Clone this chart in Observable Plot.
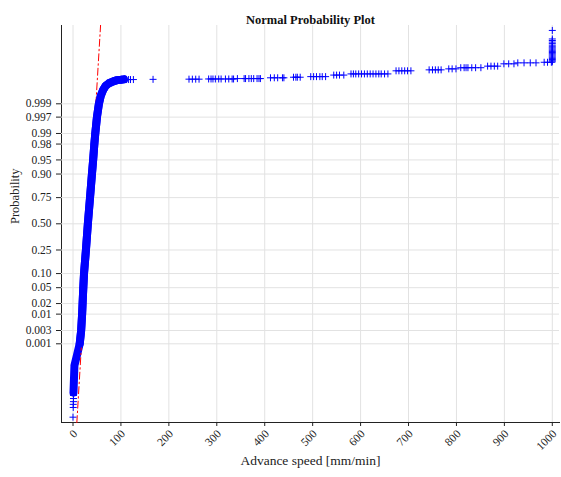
<!DOCTYPE html>
<html><head><meta charset="utf-8">
<script src="https://cdn.jsdelivr.net/npm/d3@7"></script>
<script src="https://cdn.jsdelivr.net/npm/@observablehq/plot@0.6"></script>
<style>body{margin:0;background:#fff;} svg{display:block}</style>
</head><body><div id="chart"></div>
<script>
// ---- Data ----
const probTicks = [0.001, 0.003, 0.01, 0.02, 0.05, 0.10, 0.25, 0.50, 0.75, 0.90, 0.95, 0.98, 0.99, 0.997, 0.999];
const probLabels = ["0.001","0.003","0.01","0.02","0.05","0.10","0.25","0.50","0.75","0.90","0.95","0.98","0.99","0.997","0.999"];
const speedTicks = [0,100,200,300,400,500,600,700,800,900,1000];

// dense body of the quantile curve (normal score z, speed)
const bandZ =     [-4.35,-4.0,-3.65,-3.4,-3.09,-2.75,-2.33,-2.05,-1.64,-1.28,-0.67,0,  0.67,1.28,1.64,2.05,2.33,2.75,3.09,3.3,3.45,3.55,3.62,3.67,3.70,3.71,3.72];
const bandSpeed = [1,    2,   3,    8,   14,   17,   19,   20,   21.5, 23,   27,   31, 35.5,39.5,42,  44.5,46.5,50,  54,  58, 63,  68,  75,  84,  92, 100, 106];

// lowest individual observations
const lowZ =     [-4.98,-4.73,-4.65,-4.58,-4.50,-4.42];
const lowSpeed = [0,    0.5,  0.5,  1,    1,    1];

// sparse upper tail, grouped by normal score
const tailZ = [3.715,3.72,3.725,3.73,3.74,3.76,3.775,3.79,3.83,3.86,3.94,3.965,3.99,4.02,4.06,4.12,4.145,4.16];
const tailSpeeds = [
  [104,108,112,116,120,126],
  [167],
  [242,249,256,263],
  [283,288,292,297,304,309,318,325,332,335],
  [343,357,360,367,372,377,384,388,391],
  [412,420,427,437,440],
  [460,465,468,474],
  [496,502,508,515,520,527],
  [544,550,556,565],
  [580,585,590,596,602,608,614,620,626,632,638,643,650,657],
  [674,680,686,692,698,705],
  [743,750,756,762,768],
  [784,791,799],
  [809,816,820,824,832,840,851],
  [865,872,879,886],
  [899,909,920],
  [928,941,954,966],
  [983,990,998]
];
// stack of observations at the 1000 mm/min cap
const capSpeed = 1000;
const capZ = [4.17,4.2,4.23,4.26,4.29,4.32,4.35,4.38,4.41,4.44,4.47,4.5,4.53,4.56,4.6,4.64,4.68,4.72,4.76,4.98];

// reference (fitted normal) line end points
const refSpeed = [8, 57.5];
const refZ = [-5.12, 5.11];

// ---- helpers ----
function norminv(p){
  const a=[-3.969683028665376e+01,2.209460984245205e+02,-2.759285104469687e+02,1.383577518672690e+02,-3.066479806614716e+01,2.506628277459239e+00];
  const b=[-5.447609879822406e+01,1.615858368580409e+02,-1.556989798598866e+02,6.680131188771972e+01,-1.328068155288572e+01];
  const c=[-7.784894002430293e-03,-3.223964580411365e-01,-2.400758277161838e+00,-2.549671010544226e+00,4.374664141464968e+00,2.938163982698783e+00];
  const d=[7.784695709041462e-03,3.224671290700398e-01,2.445134137142996e+00,3.754408661907416e+00];
  const pl=0.02425, ph=1-pl; let q,r;
  if(p<pl){q=Math.sqrt(-2*Math.log(p));return (((((c[0]*q+c[1])*q+c[2])*q+c[3])*q+c[4])*q+c[5])/((((d[0]*q+d[1])*q+d[2])*q+d[3])*q+1);}
  if(p<=ph){q=p-0.5;r=q*q;return (((((a[0]*r+a[1])*r+a[2])*r+a[3])*r+a[4])*r+a[5])*q/(((((b[0]*r+b[1])*r+b[2])*r+b[3])*r+b[4])*r+1);}
  q=Math.sqrt(-2*Math.log(1-p));return -(((((c[0]*q+c[1])*q+c[2])*q+c[3])*q+c[4])*q+c[5])/((((d[0]*q+d[1])*q+d[2])*q+d[3])*q+1);
}
const tickZ = probTicks.map(norminv);
const labelOf = new Map(tickZ.map((z,i)=>[z, probLabels[i]]));

const band = bandZ.map((z,i)=>({z, s: bandSpeed[i]}));
const low = lowZ.map((z,i)=>({z, s: lowSpeed[i]}));
const tail = tailZ.flatMap((z,i)=>tailSpeeds[i].map(s=>({z, s})));
const cap = capZ.map(z=>({z, s: capSpeed}));
const refLine = refZ.map((z,i)=>({z, s: refSpeed[i]}));
const markers = [...low, ...band, ...tail, ...cap];

const plus = {draw(ctx, size){const h=Math.sqrt(size/Math.PI); ctx.moveTo(-h,0); ctx.lineTo(h,0); ctx.moveTo(0,-h); ctx.lineTo(0,h);}};
const serif = "'Liberation Serif','Times New Roman',serif";

const chart = Plot.plot({
  width: 561, height: 477,
  marginTop: 25, marginLeft: 61, marginRight: 2, marginBottom: 55,
  style: {fontFamily: serif, fontSize: "11.5px", background: "#fff", color: "#222"},
  x: {domain: [-24, 1015], ticks: speedTicks, tickSize: 4, tickFormat: () => "", label: null, line: true},
  y: {domain: [-5.117, 5.107], ticks: tickZ, tickFormat: d => labelOf.get(d), tickSize: 5, tickPadding: 5, label: null, line: true},
  marks: [
    Plot.ruleX(speedTicks, {stroke: "#e2e2e2", strokeWidth: 1}),
    Plot.ruleY(tickZ, {stroke: "#e2e2e2", strokeWidth: 1}),
    Plot.line(band, {x: "s", y: "z", stroke: "#0000ff", strokeWidth: 8, strokeLinejoin: "round"}),
    Plot.line(refLine, {x: "s", y: "z", stroke: "#ff0000", strokeWidth: 1, strokeDasharray: "7,3,1.5,3"}),
    Plot.line(band.filter(d => d.z > -3.2), {x: "s", y: "z", stroke: "#0000ff", strokeWidth: 8, strokeLinejoin: "round"}),
    Plot.dot(markers, {x: "s", y: "z", symbol: plus, r: 3.5, stroke: "#0000ff", strokeWidth: 1, fill: "none"}),
    Plot.text(speedTicks, {x: d => d, text: d => String(d), frameAnchor: "bottom", dy: 12, dx: 5, rotate: -45, textAnchor: "end", fontSize: 11.5, fill: "#222"}),
    Plot.text(["Normal Probability Plot"], {text: d => d, frameAnchor: "top", dy: -10, fontWeight: "bold", fontSize: 12.5, fill: "#111"}),
    Plot.text(["Advance speed [mm/min]"], {text: d => d, frameAnchor: "bottom", dy: 42, fontSize: 13.5, fill: "#222"}),
    Plot.text(["Probability"], {text: d => d, frameAnchor: "left", dx: -46.5, rotate: -90, fontSize: 12.5, fill: "#222"})
  ]
});
document.getElementById("chart").appendChild(chart);
</script>
</body></html>
